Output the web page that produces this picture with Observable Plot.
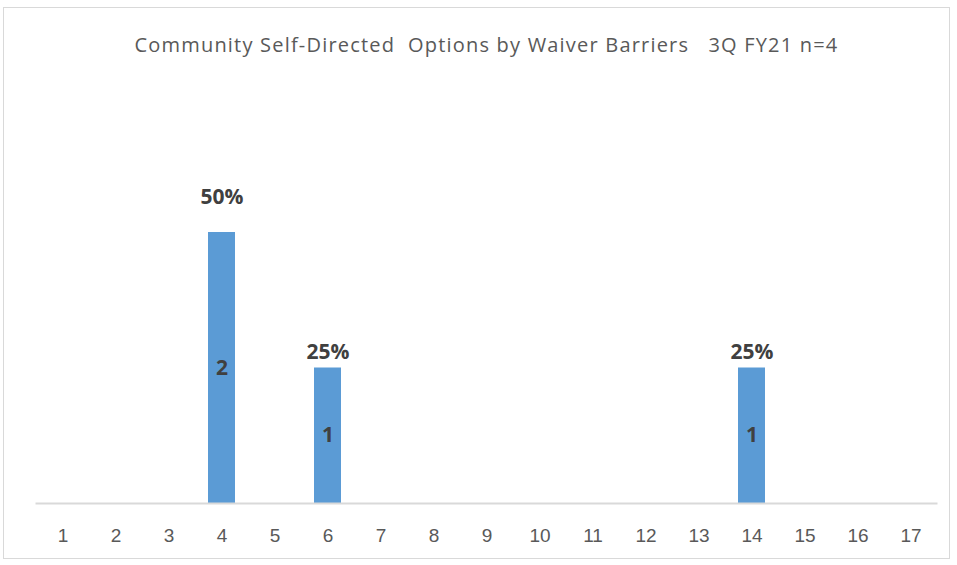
<!DOCTYPE html>
<html>
<head>
<meta charset="utf-8">
<script src="https://cdn.jsdelivr.net/npm/d3@7"></script>
<script src="https://cdn.jsdelivr.net/npm/@observablehq/plot@0.6"></script>
<style>
  html, body { margin: 0; padding: 0; background: #fff; }
  #wrap { position: relative; width: 957px; height: 565px; overflow: hidden; }
  #frame { position: absolute; left: 3px; top: 7px; width: 947px; height: 552px; border: 1.5px solid #d9d9d9; box-sizing: border-box; }
  #title { position: relative; height: 80px; line-height: 90px; text-align: center; font-family: "Open Sans", sans-serif; font-size: 20px; letter-spacing: 1.2px; color: #595959; white-space: pre; padding-left: 16px; }
  #chart { position: relative; }
</style>
</head>
<body>
<div id="wrap">
  <div id="frame"></div>
  <div id="title">Community Self-Directed  Options by Waiver Barriers   3Q FY21 n=4</div>
  <div id="chart"></div>
</div>
<script>
const categories = ["1","2","3","4","5","6","7","8","9","10","11","12","13","14","15","16","17"];
const counts =     [0,0,0,2,0,1,0,0,0,0,0,0,0,1,0,0,0];
const percents =   ["","","","50%","","25%","","","","","","","","25%","","",""];

const data = categories.map((c, i) => ({cat: c, n: counts[i], pct: percents[i]}));
const bars = data.filter(d => d.n > 0);
const labelFont = "'Open Sans', sans-serif";

const chart = Plot.plot({
  width: 957,
  height: 485,
  marginLeft: 35.5,
  marginRight: 19.5,
  marginTop: 152,
  marginBottom: 62,
  style: { fontFamily: "'Liberation Sans', sans-serif", background: "transparent" },
  x: { domain: categories, paddingInner: 0.5, paddingOuter: 0.25, label: null },
  y: { domain: [0, 2], axis: null },
  marks: [
    Plot.barY(bars, { x: "cat", y: "n", fill: "#5b9bd5" }),
    Plot.ruleY([0], { stroke: "#d9d9d9", strokeWidth: 2 }),
    Plot.text(bars, { x: "cat", y: d => d.n / 2, text: d => String(d.n), fill: "#404040", fontWeight: "bold", fontSize: 21, fontFamily: labelFont }),
    Plot.text(bars.filter(d => d.n === 2), { x: "cat", y: "n", text: "pct", dy: -35, fill: "#404040", fontWeight: "bold", fontSize: 21, fontFamily: labelFont }),
    Plot.text(bars.filter(d => d.n !== 2), { x: "cat", y: "n", text: "pct", dy: -16, fill: "#404040", fontWeight: "bold", fontSize: 21, fontFamily: labelFont }),
    Plot.axisX({ tickSize: 0, tickPadding: 25, fontSize: 19, fill: "#595959", label: null })
  ]
});
document.getElementById("chart").appendChild(chart);
</script>
</body>
</html>
